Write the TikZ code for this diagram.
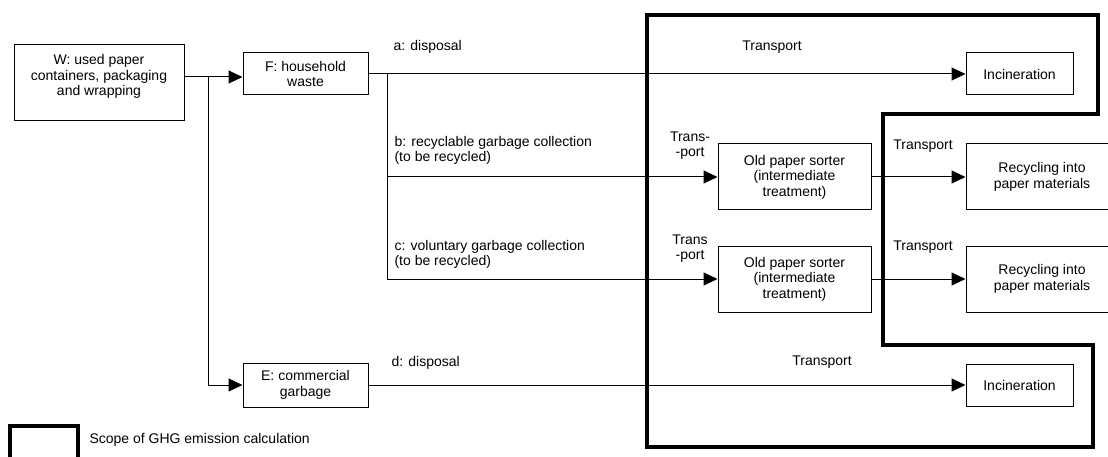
\documentclass[tikz,border=0pt]{standalone}
\usepackage{fontspec}
\setmainfont{Liberation Sans}
\usetikzlibrary{arrows.meta}

\begin{document}
\begin{tikzpicture}[x=1pt,y=-1pt,
  font=\fontsize{14}{15.5}\selectfont,
  box/.style={draw,line width=1pt,align=center,inner sep=0pt},
  arr/.style={line width=1pt,-{Triangle[length=14pt,width=13pt]}},
  flow/.style={line width=1pt},
  scopeline/.style={line width=4pt,line join=miter}]
\useasboundingbox (0,0) rectangle (1108,457);

\node[box,minimum width=170,minimum height=76] (W) at (99,83) {W: used paper\\containers, packaging\\and wrapping\\~};
\node[box,minimum width=125,minimum height=42] (F) at (305.5,74) {F: household\\waste};
\node[box,minimum width=125,minimum height=44] (E) at (305.5,385) {E: commercial\\garbage};

\node[box,minimum width=153,minimum height=66] (S1) at (794.5,177) {Old paper sorter\\(intermediate\\treatment)};
\node[box,minimum width=153,minimum height=66] (S2) at (794.5,279) {Old paper sorter\\(intermediate\\treatment)};
\node[box,minimum width=152,minimum height=66] (R1) at (1042,177) {Recycling into\\paper materials};
\node[box,minimum width=152,minimum height=66] (R2) at (1042,279) {Recycling into\\paper materials};
\node[box,minimum width=107,minimum height=42] (I1) at (1019.5,74) {Incineration};
\node[box,minimum width=107,minimum height=42] (I2) at (1019.5,385) {Incineration};

\coordinate (j1) at (208,77);
\coordinate (j2) at (387,74);

\draw[flow] (W.east |- j1) -- (j1);
\draw[arr] (j1) -- (F.west |- j1);
\draw[arr] (j1) |- (E.west);
\draw[arr] (F.east) -- (I1.west);
\draw[flow] (j2) -- (j2 |- S2.west);
\draw[arr] (j2 |- S1.west) -- (S1.west);
\draw[arr] (j2 |- S2.west) -- (S2.west);
\draw[arr] (S1.east) -- (R1.west);
\draw[arr] (S2.east) -- (R2.west);
\draw[arr] (E.east) -- (I2.west);

\node[anchor=west] (la) at (390,47) {a: disposal};
\node[anchor=west,align=left] (lb) at (391,150.5) {b: recyclable garbage collection\\(to be recycled)};
\node[anchor=west,align=left] (lc) at (391,254.5) {c: voluntary garbage collection\\(to be recycled)};
\node[anchor=west] (ld) at (388,363) {d: disposal};

\node (ta) at (772,47) {Transport};
\node[align=center] (tb) at (690,145.5) {Trans-\\-port};
\node[align=center] (tc) at (690,248.5) {Trans\\-port};
\node (tr1) at (923,146) {Transport};
\node (tr2) at (923,247) {Transport};
\node (td) at (822,362) {Transport};

\draw[scopeline] (647,15) -- (1098,15) -- (1098,114) -- (883,114) -- (883,345)
  -- (1093,345) -- (1093,447) -- (647,447) -- cycle;

\draw[scopeline] (10,460) |- (78,426) -- (78,460);
\node[anchor=west] (leg) at (86,440) {Scope of GHG emission calculation};
\end{tikzpicture}
\end{document}
